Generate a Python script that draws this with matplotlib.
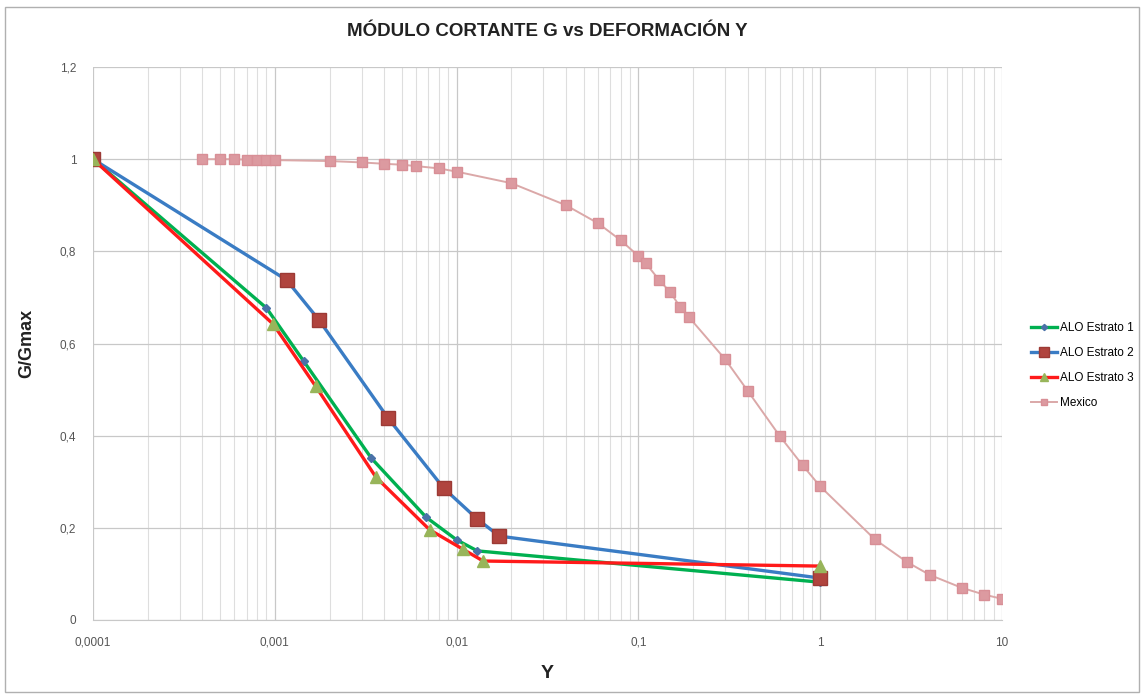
import matplotlib
matplotlib.use('Agg')
import matplotlib.pyplot as plt
import matplotlib.ticker as ticker
from matplotlib.patches import Rectangle

plt.rcParams['font.family'] = ['Liberation Sans Narrow', 'Liberation Sans', 'DejaVu Sans']

# ALO Estrato 1
e1_x = [0.0001, 0.0009, 0.00144, 0.0034, 0.0068, 0.01, 0.013, 1]
e1_y = [1.0, 0.677, 0.562, 0.351, 0.223, 0.174, 0.15, 0.082]
# ALO Estrato 2
e2_x = [0.0001, 0.00116, 0.00175, 0.0042, 0.0085, 0.013, 0.0172, 1]
e2_y = [1.0, 0.738, 0.651, 0.438, 0.286, 0.219, 0.182, 0.091]
# ALO Estrato 3
e3_x = [0.0001, 0.00098, 0.00168, 0.0036, 0.0071, 0.0109, 0.014, 1]
e3_y = [1.0, 0.642, 0.507, 0.31, 0.196, 0.153, 0.128, 0.117]
# Mexico
mx_x = [0.0004, 0.0005, 0.0006, 0.0007, 0.0008, 0.0009, 0.001, 0.002, 0.003, 0.004,
        0.005, 0.006, 0.008, 0.01, 0.02, 0.04, 0.06, 0.08, 0.1, 0.11, 0.13, 0.15,
        0.17, 0.19, 0.3, 0.4, 0.6, 0.8, 1, 2, 3, 4, 6, 8, 10]
mx_y = [1.0, 1.0, 1.0, 0.999, 0.999, 0.999, 0.998, 0.996, 0.993, 0.99,
        0.988, 0.985, 0.98, 0.973, 0.948, 0.9, 0.861, 0.824, 0.79, 0.774, 0.738, 0.711,
        0.679, 0.657, 0.566, 0.497, 0.399, 0.336, 0.29, 0.175, 0.126, 0.098, 0.07, 0.055, 0.046]

yticks = [0, 0.2, 0.4, 0.6, 0.8, 1.0, 1.2]
ytick_labels = ['0', '0,2', '0,4', '0,6', '0,8', '1', '1,2']
xticks = [0.0001, 0.001, 0.01, 0.1, 1, 10]
xtick_labels = ['0,0001', '0,001', '0,01', '0,1', '1', '10']

fig = plt.figure(figsize=(11.44, 6.96), dpi=100)
fig.patches.append(Rectangle((0.004, 0.006), 0.992, 0.984, transform=fig.transFigure,
                             fill=False, edgecolor='#b0b0b0', linewidth=1))
ax = fig.add_axes([0.0813, 0.1092, 0.7945, 0.7945])

ax.plot(e1_x, e1_y, color='#00b050', lw=2.4, marker='D', ms=4.5,
        mfc='#4a72a8', mec='#4a72a8', label='ALO Estrato 1', zorder=3)
ax.plot(e2_x, e2_y, color='#3a7cc4', lw=2.4, marker='s', ms=9.5,
        mfc='#b0443e', mec='#9c3a35', label='ALO Estrato 2', zorder=3)
ax.plot(e3_x, e3_y, color='#ff1a1a', lw=2.4, marker='^', ms=8,
        mfc='#98b55a', mec='#98b55a', label='ALO Estrato 3', zorder=4)
ax.plot(mx_x, mx_y, color='#dba8a8', lw=1.4, marker='s', ms=6.5,
        mfc='#dc9aa0', mec='#d88f96', label='Mexico', zorder=5)

ax.set_xscale('log')
ax.set_xlim(0.0001, 10)
ax.set_ylim(0, 1.2)
ax.set_xticks(xticks)
ax.xaxis.set_major_formatter(ticker.FixedFormatter(xtick_labels))
ax.xaxis.set_minor_formatter(ticker.NullFormatter())
ax.xaxis.set_minor_locator(ticker.LogLocator(base=10, subs=range(2, 10)))
ax.set_yticks(yticks)
ax.set_yticklabels(ytick_labels)
ax.tick_params(which='both', length=0, labelsize=8.5, colors='#555555', pad=12)

ax.grid(True, which='major', color='#c8c8c8', lw=0.9)
ax.grid(True, which='minor', axis='x', color='#dedede', lw=0.8)
for s in ['top', 'right', 'left']:
    ax.spines[s].set_visible(False)
ax.spines['bottom'].set_color('#c8c8c8')

ax.set_title('MÓDULO CORTANTE G vs DEFORMACIÓN Υ', fontsize=13.5, fontweight='bold',
             color='#222222', pad=22)
ax.set_ylabel('G/Gmax', fontsize=13, fontweight='bold', color='#222222', labelpad=18)
ax.set_xlabel('Υ', fontsize=14, fontweight='bold', color='#222222', labelpad=12)

ax.legend(loc='center left', bbox_to_anchor=(1.02, 0.46), frameon=False, fontsize=8.5,
          handlelength=2.2, labelspacing=1.1, handletextpad=0.3, markerscale=0.7)

fig.savefig('out.png', dpi=100)
